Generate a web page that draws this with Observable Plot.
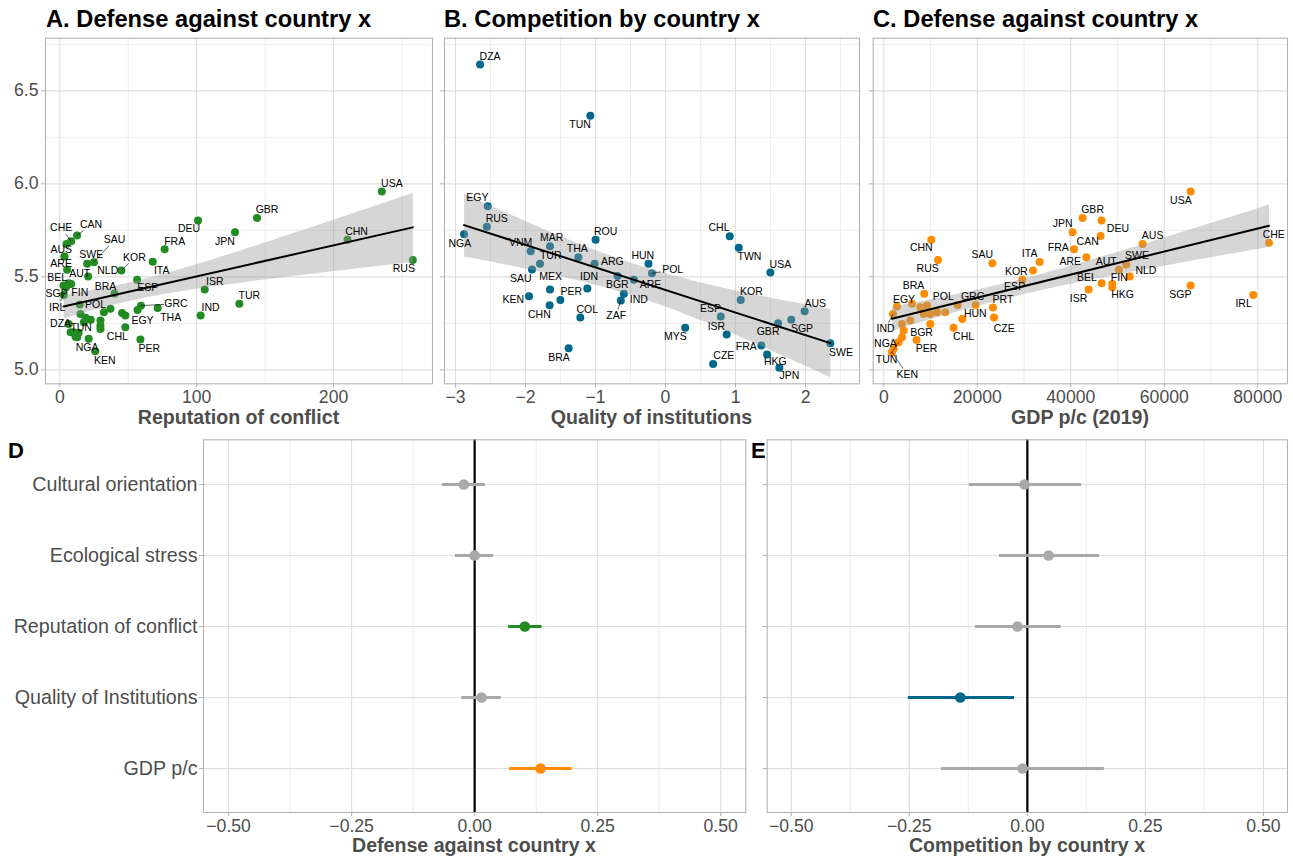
<!DOCTYPE html>
<html><head><meta charset="utf-8">
<script src="https://cdn.jsdelivr.net/npm/d3@7"></script>
<script src="https://cdn.jsdelivr.net/npm/@observablehq/plot@0.6"></script>
<style>
body{margin:0;background:#fff;}
#root{position:relative;width:1293px;height:858px;overflow:hidden;font-family:"Liberation Sans",Arial,Helvetica,sans-serif;}
.t{position:absolute;line-height:1;white-space:nowrap;}
.title{font-weight:bold;font-size:23.7px;color:#000;}
.axtitle{font-weight:bold;font-size:19.6px;color:#4D4D4D;transform:translateX(-50%);}
.tag{font-weight:bold;font-size:22px;color:#000;}
</style></head><body><div id="root"></div>
<script>
// ---------- DATA ----------
// Panel A: Reputation of conflict vs Defense against country x
const codesA = ["USA","CHN","RUS","GBR","DEU","JPN","FRA","ITA","KOR","ISR","TUR","IND","GRC","THA","EGY","CHL","PER","KEN","NGA","TUN","DZA","IRL","SGP","FIN","POL","BRA","ESP","BEL","AUT","NLD","SWE","SAU","ARE","AUS","CHE","CAN","","","","","","","","","","","","","","","",""];
const reputation = [235.3,210.2,257.9,144.1,101.0,128.0,76.6,67.9,45.0,105.9,131.2,102.9,59.3,71.5,56.8,47.9,58.9,25.9,11.5,12.7,7.9,2.9,2.8,8.3,14.6,40.0,56.5,6.5,5.3,20.7,20.0,24.9,3.4,4.9,8.3,12.6,4.6,15.1,18.9,22.6,32.2,37.0,45.5,47.9,29.7,29.7,29.7,6.5,10.2,13.8,17.6,21.1];
const defenseA = [5.959,5.700,5.591,5.817,5.803,5.740,5.648,5.581,5.534,5.432,5.355,5.292,5.345,5.333,5.322,5.229,5.163,5.100,5.178,5.175,5.202,5.403,5.453,5.462,5.351,5.410,5.484,5.466,5.538,5.502,5.570,5.579,5.609,5.677,5.691,5.722,5.444,5.300,5.280,5.270,5.310,5.328,5.305,5.292,5.265,5.238,5.220,5.247,5.202,5.200,5.256,5.167];

// Panel B: Quality of institutions vs Competition by country x
const codesB = ["DZA","TUN","EGY","RUS","NGA","ROU","MAR","VNM","THA","TUR","ARG","SAU","HUN","POL","BGR","ARE","IDN","IND","ZAF","MEX","KEN","PER","CHN","COL","BRA","CHL","TWN","USA","KOR","AUS","SGP","GBR","ESP","ISR","MYS","FRA","HKG","JPN","CZE","SWE"];
const institutions = [-2.649,-1.074,-2.539,-2.553,-2.877,-0.999,-1.650,-1.926,-1.245,-1.793,-1.013,-1.907,-0.243,-0.193,-0.685,-0.452,-1.117,-0.595,-0.638,-1.650,-1.950,-1.502,-1.655,-1.217,-1.384,0.917,1.046,1.498,1.074,1.987,1.797,1.608,0.789,0.874,0.281,1.369,1.451,1.626,0.680,2.354];
const competition = [6.641,6.366,5.880,5.769,5.729,5.699,5.665,5.638,5.606,5.570,5.570,5.539,5.570,5.519,5.505,5.484,5.437,5.409,5.373,5.432,5.396,5.376,5.347,5.281,5.116,5.718,5.656,5.523,5.376,5.315,5.270,5.251,5.287,5.190,5.227,5.131,5.082,5.011,5.032,5.143];

// Panel C: GDP p/c (2019) vs Defense against country x
const codesC = ["USA","GBR","DEU","JPN","CAN","AUS","FRA","ARE","ITA","KOR","SWE","AUT","NLD","BEL","FIN","HKG","ISR","SGP","CHE","IRL","CHN","RUS","SAU","ESP","PRT","CZE","GRC","HUN","CHL","POL","BRA","BGR","PER","EGY","IND","NGA","TUN","KEN","","","","","","","","","","",""];
const gdp = [65630,42520,46590,40390,46380,55360,40680,43320,33330,31910,51870,50300,52580,46590,48880,48880,43810,65630,82400,79040,10160,11590,23210,29630,23350,23570,19640,16790,14930,15790,8660,9950,7000,2820,1970,3890,3170,1750,6030,7800,9240,8510,9950,11380,13150,5670,4240,3890,2100];
const defenseC = [5.959,5.817,5.803,5.740,5.720,5.677,5.648,5.605,5.580,5.534,5.566,5.538,5.502,5.466,5.462,5.444,5.432,5.453,5.683,5.403,5.700,5.591,5.573,5.485,5.335,5.281,5.349,5.274,5.227,5.349,5.409,5.247,5.161,5.340,5.300,5.175,5.148,5.095,5.355,5.337,5.346,5.300,5.300,5.310,5.310,5.265,5.211,5.247,5.113];

// Panels D / E: coefficient estimates with 95% intervals
const predictors = ["Cultural orientation","Ecological stress","Reputation of conflict","Quality of Institutions","GDP p/c"];
const defenseEst = [-0.022, 0.000, 0.102, 0.014, 0.134];
const defenseLo  = [-0.066,-0.039, 0.069,-0.026, 0.071];
const defenseHi  = [ 0.022, 0.039, 0.137, 0.054, 0.198];
const competitionEst = [-0.006, 0.045,-0.021,-0.142,-0.010];
const competitionLo  = [-0.123,-0.059,-0.110,-0.252,-0.182];
const competitionHi  = [ 0.115, 0.153, 0.072,-0.027, 0.163];

// Axis ticks
const yTicks = [5.0,5.5,6.0,6.5], yMinor = [5.25,5.75,6.25,6.75];
const repTicks = [0,100,200], repMinor = [50,150,250];
const instTicks = [-3,-2,-1,0,1,2], instMinor = [-2.5,-1.5,-0.5,0.5,1.5,2.5];
const gdpTicks = [0,20000,40000,60000,80000], gdpMinor = [10000,30000,50000,70000];
const coefTicks = [-0.5,-0.25,0,0.25,0.5], coefMinor = [-0.375,-0.125,0.125,0.375];

// ---------- LAYOUT / STYLE ----------
const GREEN = "#228B22", BLUE = "#00688B", ORANGE = "#FF8C00", GREY = "#A9A9A9";
const FONT = '"Liberation Sans", Arial, Helvetica, sans-serif';
// label offsets in px relative to point: [dx, dy, segment?]
const labA = {USA:[10,-8],GBR:[10,-8],CHN:[9,-8],RUS:[-9,9],DEU:[-9,8],JPN:[-10,9],FRA:[10,-8],ITA:[9,9],KOR:[13,-13,1],ISR:[10,-8],TUR:[10,-8],IND:[10,-8],GRC:[35,-2,1],THA:[13,10],EGY:[5,11],CHL:[-8,9],PER:[9,9],KEN:[9.5,9],NGA:[11.6,11],TUN:[4,-9.4],DZA:[-10,-8.4],IRL:[-6.6,12.4,1],SGP:[-7,7.7],FIN:[8.6,8.9],POL:[15.7,0],BRA:[-9,-7],ESP:[10.6,8],BEL:[-11.5,-5.9],AUT:[12.7,3.5],ARE:[-3.3,6.7],AUS:[-5.3,5.6],CHE:[-10,-13.4,1],CAN:[14,-11,1],SWE:[4,-9.3],SAU:[20.6,-22.3,1],NLD:[19.6,-5.9]};
const labB = {DZA:[10,-8.3],TUN:[-10.3,8.7],EGY:[-10.3,-8.3],RUS:[10,-8],NGA:[-4.3,9],VNM:[-10,-8.3],MAR:[1.7,-8.3],THA:[-1,-8.3],ROU:[10,-8.3],TUR:[10.7,-8.3],ARG:[17.7,-2.3],SAU:[-11.3,9.3],MEX:[0.7,-13],IDN:[1.7,-12],BGR:[-0.3,8.7],ARE:[16.7,4.7],HUN:[-5.7,-8.3],POL:[20.7,-3.3,1],KEN:[-15.7,3.3],PER:[11,-8.7],CHN:[-10.3,9],COL:[7,-8],BRA:[-9.7,9],IND:[15,6],ZAF:[-4.7,15,1],CHL:[-10.7,-8.3],TWN:[10.7,8.7],USA:[10,-8],KOR:[10.7,-8.7],AUS:[10.7,-7.3],SGP:[10.7,8.7],GBR:[-10,8.3],ESP:[-10.3,-8.3],ISR:[-10.3,-8.3],MYS:[-9.7,9],FRA:[-15,0.7],HKG:[8.3,7],JPN:[10,8.3],CZE:[10.7,-8.3],SWE:[10.7,9.7]};
const labC = {USA:[-9.7,9],GBR:[10,-8],JPN:[-10,-8.3],DEU:[16.3,8.3],CAN:[-13,5.3],AUS:[10,-8.3],FRA:[-15.7,-2],ARE:[-16,4.3],AUT:[-12.7,-8.3],SWE:[10.7,-9],NLD:[16.3,-6],BEL:[-14.7,-6],FIN:[7,-6],HKG:[10.3,7.7],ISR:[-10,8.7],SGP:[-10.3,9],CHE:[4.7,-8.3],IRL:[-9.7,9],ITA:[-10,-8],CHN:[-10,8.3],RUS:[-10.3,9],SAU:[-10,-8.3],KOR:[-16.7,0.7],ESP:[-7.7,7],PRT:[10,-8],CZE:[10.3,11.3],GRC:[-3,-8.7],HUN:[13,-5],CHL:[10,9],POL:[-14.4,-8.4],BRA:[-10.7,-8.3],EGY:[7,-7],BGR:[-8.8,8.4],PER:[10,8.3],IND:[-7.5,14.8,1],NGA:[-16.5,6.6],TUN:[-12.1,17.3,1],KEN:[15.2,22.3,1]};

const root = document.getElementById("root");
function put(node, left, top) {
  node.style.position = "absolute"; node.style.left = left + "px"; node.style.top = top + "px";
  root.appendChild(node);
}
function txt(cls, s, left, top) {
  const d = document.createElement("div"); d.className = "t " + cls; d.textContent = s;
  d.style.left = left + "px"; d.style.top = top + "px"; root.appendChild(d);
}
const yDomain = [4.925, 6.783];

function scatter(cfg) {
  const {codes, xs, ys, left, width, ml, mr, xDomain, xMajor, xMinor, xFormat, showY, color, lab} = cfg;
  const height = 410, mt = 37.7, mb = 26.7;
  const rows = codes.map((c, i) => ({code: c, x: xs[i], y: ys[i]}));
  const sx = d3.scaleLinear().domain(xDomain).range([ml, width - mr]);
  const sy = d3.scaleLinear().domain(yDomain).range([height - mb, mt]);
  const labels = [], segs = [];
  for (const r of rows) {
    const L = lab[r.code]; if (!r.code || !L) continue;
    const px = sx(r.x), py = sy(r.y), lx = px + L[0], ly = py + L[1];
    labels.push({x: sx.invert(lx), y: sy.invert(ly), text: r.code});
    if (L[2]) {
      const dx = lx - px, dy = ly - py, hw = 12, hh = 6;
      const t = Math.min(hw / Math.max(Math.abs(dx), 1e-6), hh / Math.max(Math.abs(dy), 1e-6));
      segs.push({x1: r.x, y1: r.y, x2: sx.invert(lx - dx * t), y2: sy.invert(ly - dy * t)});
    }
  }
  const svg = Plot.plot({
    width, height, marginTop: mt, marginBottom: mb, marginLeft: ml, marginRight: mr,
    style: {fontFamily: FONT, fontSize: "17.6px", color: "#4D4D4D", background: "transparent", overflow: "visible"},
    x: {domain: xDomain}, y: {domain: yDomain},
    marks: [
      Plot.ruleX(xMinor, {stroke: "#DEDEDE", strokeWidth: 0.55}),
      Plot.ruleY(yMinor, {stroke: "#DEDEDE", strokeWidth: 0.55}),
      Plot.ruleX(xMajor, {stroke: "#DEDEDE", strokeWidth: 1.1}),
      Plot.ruleY(yTicks, {stroke: "#DEDEDE", strokeWidth: 1.1}),
      Plot.dot(rows, {x: "x", y: "y", r: 4, fill: color}),
      Plot.linearRegressionY(rows, {x: "x", y: "y", stroke: "#000", strokeWidth: 2, fill: "#999999", fillOpacity: 0.4, ci: 0.95}),
      Plot.link(segs, {x1: "x1", y1: "y1", x2: "x2", y2: "y2", stroke: "#000", strokeWidth: 0.6}),
      Plot.text(labels, {x: "x", y: "y", text: "text", fontSize: 10.5, fill: "#000", fontFamily: FONT}),
      Plot.frame({stroke: "#B3B3B3", strokeWidth: 1.1}),
      Plot.axisX({ticks: xMajor, tickFormat: xFormat, tickSize: 4, tickPadding: 3, stroke: "#B3B3B3", fill: "#4D4D4D", fontSize: 17.6, label: null}),
      Plot.axisY({ticks: yTicks, tickFormat: showY ? d3.format(".1f") : () => "", tickSize: 4, tickPadding: 3, stroke: "#B3B3B3", fill: "#4D4D4D", fontSize: 17.6, label: null})
    ]
  });
  put(svg, left, 0);
}

scatter({codes: codesA, xs: reputation, ys: defenseA, left: 0, width: 436, ml: 45, mr: 4,
  xDomain: [-10.44, 272.3], xMajor: repTicks, xMinor: repMinor, xFormat: d3.format("d"), showY: true, color: GREEN, lab: labA});
scatter({codes: codesB, xs: institutions, ys: competition, left: 436, width: 426, ml: 8, mr: 3,
  xDomain: [-3.157, 2.771], xMajor: instTicks, xMinor: instMinor, xFormat: d3.format("d"), showY: false, color: BLUE, lab: labB});
scatter({codes: codesC, xs: gdp, ys: defenseC, left: 862, width: 431, ml: 10.7, mr: 6,
  xDomain: [-2267, 86353], xMajor: gdpTicks, xMinor: gdpMinor, xFormat: d3.format("d"), showY: false, color: ORANGE, lab: labC});

function forest(cfg) {
  const {left, width, ml, mr, est, lo, hi, highlight, showY} = cfg;
  const rows = predictors.map((p, i) => ({p, est: est[i], lo: lo[i], hi: hi[i], c: highlight[p] || GREY}));
  const svg = Plot.plot({
    width, height: 410, marginTop: 9.3, marginBottom: 28, marginLeft: ml, marginRight: mr,
    style: {fontFamily: FONT, fontSize: "17.6px", color: "#4D4D4D", background: "transparent", overflow: "visible"},
    x: {domain: [-0.551, 0.551]},
    y: {type: "point", domain: predictors, padding: 0.6},
    color: {type: "identity"},
    marks: [
      Plot.ruleX(coefMinor, {stroke: "#DEDEDE", strokeWidth: 0.55}),
      Plot.ruleX(coefTicks, {stroke: "#DEDEDE", strokeWidth: 1.1}),
      Plot.ruleY(predictors, {y: d => d, stroke: "#DEDEDE", strokeWidth: 1.1}),
      Plot.ruleX([0], {stroke: "#000", strokeWidth: 2.2}),
      Plot.ruleY(rows, {y: "p", x1: "lo", x2: "hi", stroke: "c", strokeWidth: 3.2}),
      Plot.dot(rows, {x: "est", y: "p", r: 5.3, fill: "c"}),
      Plot.frame({stroke: "#B3B3B3", strokeWidth: 1.1}),
      Plot.axisX({ticks: coefTicks, tickFormat: d3.format(".2f"), tickSize: 4, tickPadding: 3, stroke: "#B3B3B3", fill: "#4D4D4D", fontSize: 17.6, label: null}),
      Plot.axisY({tickFormat: showY ? (d => d) : () => "", tickSize: 4, tickPadding: 2, stroke: "#B3B3B3", fill: "#4D4D4D", fontSize: 19.7, label: null})
    ]
  });
  put(svg, left, 430);
}
forest({left: 0, width: 750, ml: 203, mr: 4.7, est: defenseEst, lo: defenseLo, hi: defenseHi,
  highlight: {"Reputation of conflict": GREEN, "GDP p/c": ORANGE}, showY: true});
forest({left: 750, width: 543, ml: 16.7, mr: 6, est: competitionEst, lo: competitionLo, hi: competitionHi,
  highlight: {"Quality of Institutions": BLUE}, showY: false});

// Titles
txt("title", "A. Defense against country x", 46, 8.2);
txt("title", "B. Competition by country x", 444, 8.2);
txt("title", "C. Defense against country x", 873, 8.2);
txt("axtitle", "Reputation of conflict", 238.5, 408.4);
txt("axtitle", "Quality of institutions", 651.5, 408.4);
txt("axtitle", "GDP p/c (2019)", 1080, 408.4);
txt("axtitle", "Defense against country x", 474, 835.5);
txt("axtitle", "Competition by country x", 1027, 835.5);
txt("tag", "D", 8, 440.4);
txt("tag", "E", 751, 440.4);
</script></body></html>
